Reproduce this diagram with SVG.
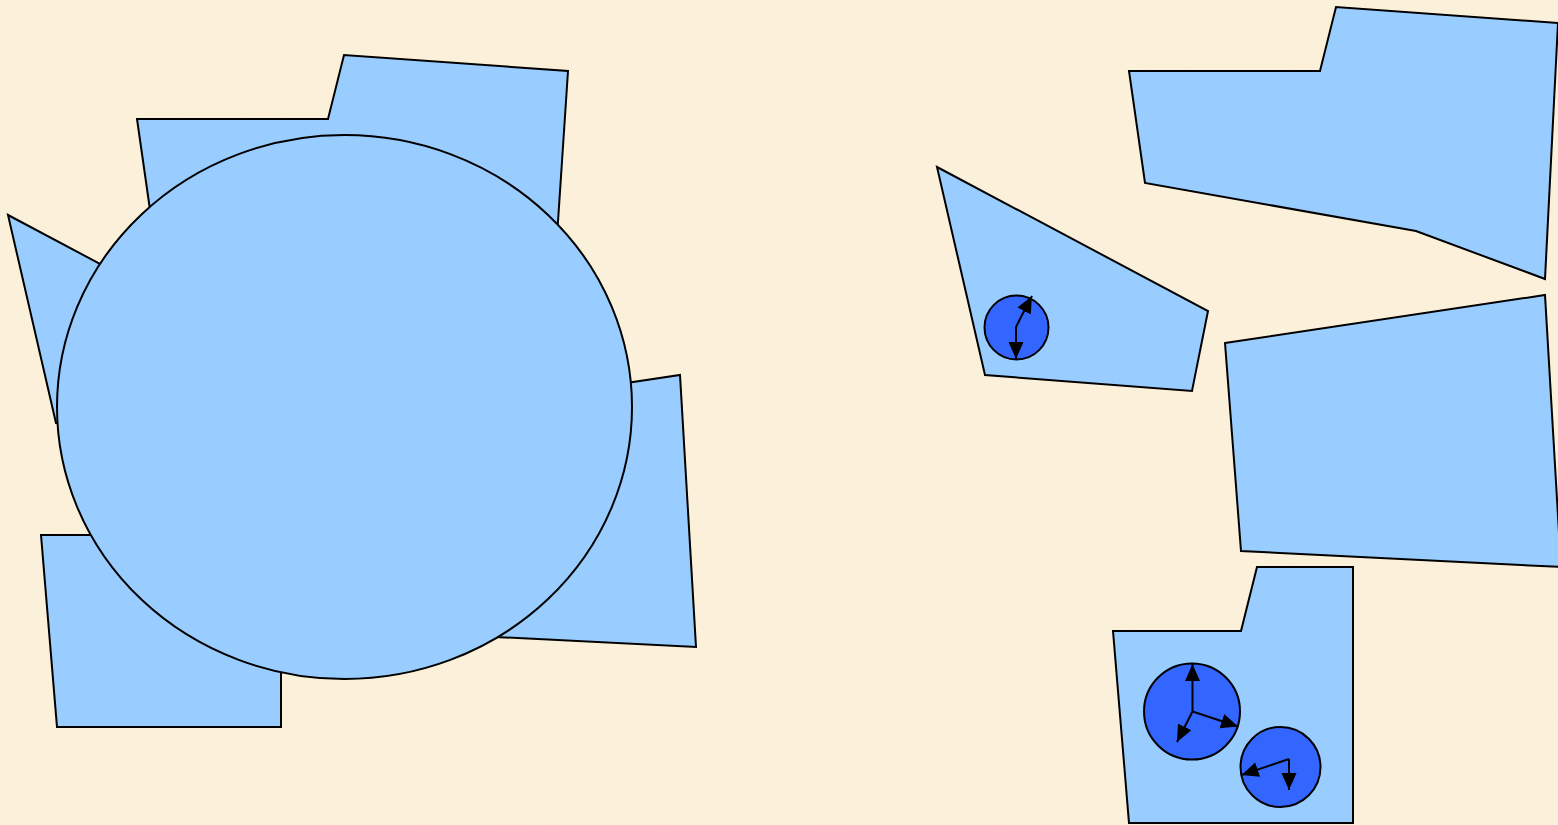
<svg xmlns="http://www.w3.org/2000/svg" width="1558" height="825" viewBox="0 0 1558 825">
  <defs>
    <filter id="paper" x="0" y="0" width="100%" height="100%">
      <feTurbulence type="fractalNoise" baseFrequency="0.025" numOctaves="3" seed="4" result="n"/>
      <feColorMatrix in="n" type="matrix" values="0 0 0 0 0.94  0 0 0 0 0.88  0 0 0 0 0.70  0 0 0 0.9 -0.2"/>
    </filter>
    <marker id="arr" markerUnits="userSpaceOnUse" markerWidth="18" markerHeight="16" refX="17" refY="7.5" orient="auto">
      <path d="M0,0 L17,7.5 L0,15 z" fill="#000"/>
    </marker>
    <style>
      .shape { fill: #99CCFF; stroke: #000; stroke-width: 2; stroke-linejoin: miter; }
      .ball { fill: #3366FF; stroke: #000; stroke-width: 2; }
      .arrow { fill: none; stroke: #000; stroke-width: 2; marker-end: url(#arr); }
    </style>
  </defs>
  <rect width="1558" height="825" fill="#FCF0DA"/>
  <rect width="1558" height="825" filter="url(#paper)" opacity="0.7"/>

  <g id="left-group">
    <polygon id="left-top" class="shape" points="137,119 328,119 344,55 568,71 551,327 424,279 153,231"/>
    <polygon id="left-side" class="shape" points="8,215 279,359 263,439 56,423"/>
    <polygon id="left-right" class="shape" points="360,423 680,375 696,647 376,631"/>
    <polygon id="left-bottom" class="shape" points="41,535 169,535 185,471 281,471 281,727 57,727"/>
    <ellipse id="big-ellipse" class="shape" cx="344.5" cy="407" rx="287.5" ry="272"/>
  </g>

  <g id="right-top">
    <polygon class="shape" points="1129,71 1320,71 1336,7 1558,23 1545,279 1416,231 1145,183"/>
  </g>
  <g id="right-middle">
    <polygon class="shape" points="937,167 1208,311 1192,391 985,375"/>
    <circle id="ball-a" class="ball" cx="1016.5" cy="327.5" r="32"/>
  </g>
  <g id="right-quad">
    <polygon class="shape" points="1225,343 1545,295 1561,567 1241,551"/>
  </g>
  <g id="right-bottom">
    <polygon class="shape" points="1113,631 1241,631 1257,567 1353,567 1353,823 1129,823"/>
    <circle id="ball-b" class="ball" cx="1192" cy="711.5" r="48"/>
    <circle id="ball-c" class="ball" cx="1280.5" cy="767" r="40"/>
  </g>

  <g id="connectors">
    <path class="arrow" d="M1016,327 L1016,359"/>
    <path class="arrow" d="M1016,327 L1022,315 L1032,296"/>
    <path class="arrow" d="M1192.5,711.5 L1192.5,664"/>
    <path class="arrow" d="M1192.5,711.5 L1238,726.5"/>
    <path class="arrow" d="M1192.5,711.5 L1177,742"/>
    <path class="arrow" d="M1289,759 L1289,790"/>
    <path class="arrow" d="M1289,759 L1241.5,775"/>
  </g>
</svg>
